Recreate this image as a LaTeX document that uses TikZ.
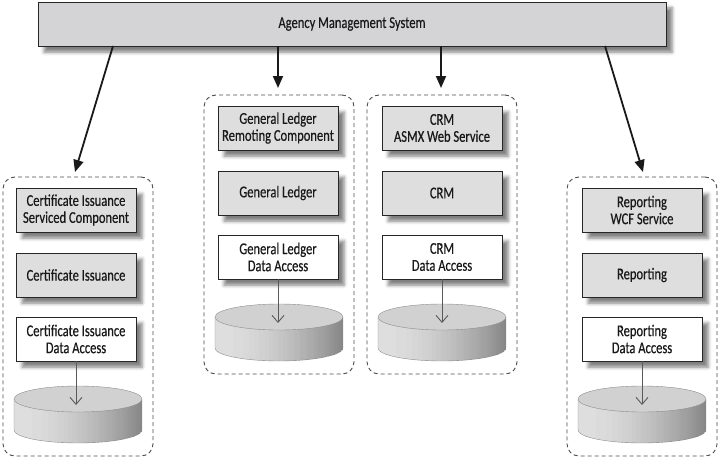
\documentclass[tikz,border=0pt]{standalone}
\usepackage{fontspec}
\setmainfont[FakeStretch=0.76,FakeBold=0.4]{Carlito}
\usetikzlibrary{arrows.meta,shadows.blur,positioning}

\definecolor{boxgray}{RGB}{222,222,222}
\definecolor{topgray}{RGB}{212,212,214}
\definecolor{linegray}{RGB}{38,38,38}

\tikzset{
  comp/.style={draw=linegray, line width=0.9pt, fill=boxgray, minimum width=120pt,
    minimum height=44pt, align=center, inner sep=2pt, text=black!90,
    font=\fontsize{16.5}{17}\selectfont,
    blur shadow={shadow xshift=6pt, shadow yshift=-6pt, shadow blur radius=3.5pt, shadow opacity=50}},
  dacomp/.style={comp, fill=white},
  tier/.style={draw=black!70, dash pattern=on 4pt off 3pt, line width=0.9pt,
    rounded corners=12pt, minimum width=150pt, minimum height=279pt},
  callarrow/.style={-{Triangle[length=12pt,width=10pt]}, line width=1.8pt, black!90},
  dbarrow/.style={-{Straight Barb[length=7pt,width=12pt]}, line width=0.9pt, black!65},
  dbtop/.style={fill=black!18!white, draw=black!45, line width=0.4pt}
}

\begin{document}
\begin{tikzpicture}[x=1pt,y=-1pt]
\useasboundingbox (0,0) rectangle (719,460);

% top system
\node[comp, fill=topgray, minimum width=628pt, minimum height=44pt] (ams) at (352,24) {Agency Management System};

% dashed tiers
\node[tier] (certTier) at (78,316.5) {};
\node[tier] (glTier) at (279,234.5) {};
\node[tier] (crmTier) at (442,234.5) {};
\node[tier] (rptTier) at (642,316.5) {};

\coordinate (amsA) at (113,46);
\coordinate (amsB) at (278,46);
\coordinate (amsC) at (441,46);
\coordinate (amsD) at (605,46);
\coordinate (certIn) at (75,172);
\coordinate (glIn) at (278,88);
\coordinate (crmIn) at (441,88);
\coordinate (rptIn) at (643,172);

\draw[callarrow] (amsA)--(certIn);
\draw[callarrow] (amsB)--(glIn);
\draw[callarrow] (amsC)--(crmIn);
\draw[callarrow] (amsD)--(rptIn);

% databases: body in thin strips, then the lid
\foreach \cx/\cy in {78/399, 279/317, 442/317, 642/399}{
  \foreach \i in {0,...,63}{
    \pgfmathsetmacro\dx{-63+2*\i}
    \pgfmathsetmacro\bot{\cy+31+13*sqrt(1-(\dx/64)^2)}
    \pgfmathtruncatemacro\sv{13+34*(\i/63)^1.8}
    \fill[black!\sv!white] (\cx+\dx-1,\cy) rectangle (\cx+\dx+1.3,\bot);
  }
  \draw[black!45, line width=0.4pt] (\cx-64,\cy)--(\cx-64,\cy+31) arc[start angle=180,end angle=0,x radius=64,y radius=13]--(\cx+64,\cy);
  \draw[dbtop] (\cx,\cy) ellipse[x radius=64,y radius=13];
}

% certificate issuance
\node[comp] (certSvc) at (76,210) {Certificate Issuance\\Serviced Component};
\node[comp] (cert) at (76,275) {Certificate Issuance};
\node[dacomp] (certDA) at (76,339) {Certificate Issuance\\Data Access};
\coordinate (certDB) at (76,405);
\draw[dbarrow] (certDA)--(certDB);

% general ledger
\node[comp] (glRem) at (278,128) {General Ledger\\Remoting Component};
\node[comp] (gl) at (278,193) {General Ledger};
\node[dacomp] (glDA) at (278,257) {General Ledger\\Data Access};
\coordinate (glDB) at (278,323);
\draw[dbarrow] (glDA)--(glDB);

% crm
\node[comp] (crmWS) at (442,128) {CRM\\ASMX Web Service};
\node[comp] (crm) at (442,193) {CRM};
\node[dacomp] (crmDA) at (442,257) {CRM\\Data Access};
\coordinate (crmDB) at (442,323);
\draw[dbarrow] (crmDA)--(crmDB);

% reporting
\node[comp] (rptWCF) at (642,210) {Reporting\\WCF Service};
\node[comp] (rpt) at (642,275) {Reporting};
\node[dacomp] (rptDA) at (642,339) {Reporting\\Data Access};
\coordinate (rptDB) at (642,405);
\draw[dbarrow] (rptDA)--(rptDB);

\end{tikzpicture}
\end{document}
